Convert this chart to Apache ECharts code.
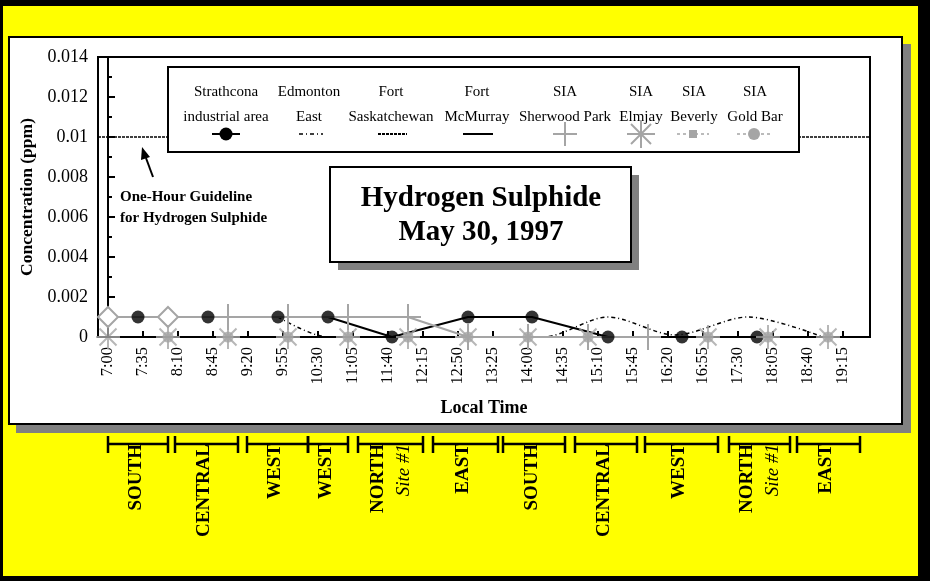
<!DOCTYPE html>
<html>
<head>
<meta charset="utf-8">
<script src="https://cdn.jsdelivr.net/npm/echarts@6/dist/echarts.min.js"></script>
<style>
html, body { margin: 0; padding: 0; background: #000; }
#yellow { position: absolute; left: 3px; top: 6px; width: 915px; height: 570px; background: #ffff00; }
#panel { position: absolute; left: 8px; top: 36px; width: 895px; height: 389px; background: #fff;
  border: 2px solid #000; box-sizing: border-box; box-shadow: 8px 8px 0 #808080; }
#main { position: absolute; left: 0; top: 0; width: 930px; height: 581px; }
</style>
</head>
<body>
<div id="yellow"></div>
<div id="panel"></div>
<div id="main"></div>
<script>
// x axis tick labels (every 35 minutes)
const tickLabels = ['7:00', '7:35', '8:10', '8:45', '9:20', '9:55', '10:30', '11:05', '11:40', '12:15', '12:50',
  '13:25', '14:00', '14:35', '15:10', '15:45', '16:20', '16:55', '17:30', '18:05', '18:40', '19:15']

// Strathcona industrial area (black dots)
const strathconaTimes = ['7:30', '8:40', '9:50', '10:40', '11:44', '13:00', '14:04', '15:20', '16:34', '17:49']
const strathconaValues = [0.001, 0.001, 0.001, 0.001, 0, 0.001, 0.001, 0, 0, 0]

// Edmonton East (dash-dot line)
const edmontonTimes = ['9:50', '10:40', '14:15', '15:20', '16:27', '17:40', '18:55']
const edmontonValues = [0.001, 0, 0, 0.001, 0.0001, 0.001, 0]

// SIA Sherwood Park (grey line, first points drawn as diamonds)
const sherwoodTimes = ['7:00', '8:00', '9:00', '10:00', '11:00', '12:00', '13:00', '14:00', '15:00', '16:00']
const sherwoodValues = [0.001, 0.001, 0.001, 0.001, 0.001, 0.001, 0, 0, 0, 0]
const sherwoodDiamonds = 2

// SIA Elmjay (asterisks)
const elmjayTimes = ['7:00', '8:00', '9:00', '10:00', '11:00', '12:00', '13:00', '14:00', '15:00', '17:00', '18:00', '19:00']
const elmjayValues = [0, 0, 0, 0, 0, 0, 0, 0, 0, 0, 0, 0]

// SIA Gold Bar (grey dots)
const goldBarTimes = ['8:00', '9:00', '10:00', '11:00', '12:00', '13:00', '14:00', '15:00', '17:00', '18:00', '19:00']
const goldBarValues = [0, 0, 0, 0, 0, 0, 0, 0, 0, 0, 0]

// one-hour guideline
const guideline = 0.01

// legend names (two lines each)
const legendNames = [['Strathcona', 'industrial area'], ['Edmonton', 'East'], ['Fort', 'Saskatchewan'], ['Fort', 'McMurray'],
  ['SIA', 'Sherwood Park'], ['SIA', 'Elmjay'], ['SIA', 'Beverly'], ['SIA', 'Gold Bar']]

// monitoring regions under the time axis
const regionNames = ['SOUTH', 'CENTRAL', 'WEST', 'WEST', 'NORTH', 'EAST', 'SOUTH', 'CENTRAL', 'WEST', 'NORTH', 'EAST']
const regionSub = ['', '', '', '', 'Site #1', '', '', '', '', 'Site #1', '']
const regionStarts = ['7:00', '8:07', '9:19', '10:20', '11:10', '12:25', '13:35', '14:47', '15:57', '17:21', '18:29']
const regionEnds = ['8:00', '9:10', '10:20', '11:00', '12:15', '13:30', '14:37', '15:49', '17:10', '18:22', '19:32']

const SERIF = '"Liberation Serif", "Times New Roman", serif'
const GREY = '#a5a5a5'
const PLUS = 'path://M12,0L12,24M0,12L24,12'
const STAR = 'path://M12,0L12,24M0,12L24,12M3.5,3.5L20.5,20.5M20.5,3.5L3.5,20.5'

const toMin = t => {
  const [h, m] = t.split(':').map(Number)
  return (h - 7) * 60 + m
}
const pairs = (times, vals) => times.map((t, i) => [toMin(t), vals[i]])
const tickValues = tickLabels.map(toMin)

const chart = echarts.init(document.getElementById('main'))

const option = {
  animation: false,
  grid: { left: 98, top: 57, right: 60, bottom: 244, show: true, borderColor: '#000', borderWidth: 2 },
  xAxis: {
    type: 'value',
    min: -10,
    max: 762,
    name: 'Local Time',
    nameLocation: 'middle',
    nameGap: 62,
    nameTextStyle: { fontFamily: SERIF, fontWeight: 'bold', fontSize: 18, color: '#000' },
    axisLine: { lineStyle: { color: '#000', width: 2 } },
    axisTick: { inside: true, length: 6, customValues: tickValues, lineStyle: { color: '#000', width: 2 } },
    axisLabel: {
      customValues: tickValues,
      rotate: 90,
      margin: 10,
      fontFamily: SERIF,
      fontSize: 16.5,
      color: '#000',
      formatter: v => tickLabels[tickValues.indexOf(v)] || ''
    },
    splitLine: { show: false }
  },
  yAxis: {
    type: 'value',
    min: 0,
    max: 0.014,
    interval: 0.002,
    name: 'Concentration (ppm)',
    nameLocation: 'middle',
    nameGap: 60,
    nameTextStyle: { fontFamily: SERIF, fontWeight: 'bold', fontSize: 17.5, color: '#000' },
    axisLine: { show: true, lineStyle: { color: '#000', width: 2 } },
    axisTick: { show: true, inside: true, length: 7, lineStyle: { color: '#000', width: 2 } },
    minorTick: { show: true, splitNumber: 2, length: 4, lineStyle: { color: '#000', width: 2 } },
    axisLabel: {
      margin: 10,
      fontFamily: SERIF,
      fontSize: 18,
      color: '#000',
      formatter: v => String(+v.toFixed(3))
    },
    splitLine: { show: false }
  },
  series: [
    {
      name: 'Strathcona industrial area',
      type: 'line',
      z: 2,
      data: pairs(strathconaTimes, strathconaValues),
      showSymbol: false,
      lineStyle: { color: '#000', width: 2 },
      markLine: {
        silent: true,
        symbol: 'none',
        label: { show: false },
        lineStyle: { color: '#000', width: 1.5, type: [3, 1] },
        data: [{ yAxis: guideline }]
      }
    },
    {
      name: 'Edmonton East',
      type: 'line',
      z: 2,
      smooth: 0.3,
      data: pairs(edmontonTimes, edmontonValues),
      showSymbol: false,
      lineStyle: { color: '#000', width: 1.5, type: [4, 3, 1, 3] }
    },
    {
      name: 'SIA Sherwood Park',
      type: 'line',
      z: 3,
      data: pairs(sherwoodTimes, sherwoodValues),
      symbol: (v, p) => (p.dataIndex < sherwoodDiamonds ? 'emptyDiamond' : PLUS),
      symbolSize: (v, p) => (p.dataIndex < sherwoodDiamonds ? 20 : 26),
      showAllSymbol: true,
      lineStyle: { color: GREY, width: 2 },
      itemStyle: { color: GREY, borderColor: GREY, borderWidth: 2 }
    },
    {
      name: 'Strathcona dots',
      type: 'scatter',
      z: 4,
      data: pairs(strathconaTimes, strathconaValues),
      symbol: 'circle',
      symbolSize: 13,
      itemStyle: { color: '#000' }
    },
    {
      name: 'SIA Elmjay',
      type: 'scatter',
      z: 5,
      data: pairs(elmjayTimes, elmjayValues),
      symbol: STAR,
      symbolSize: 24,
      itemStyle: { color: GREY, borderColor: GREY, borderWidth: 2 }
    },
    {
      name: 'SIA Gold Bar',
      type: 'scatter',
      z: 5,
      data: pairs(goldBarTimes, goldBarValues),
      symbol: 'circle',
      symbolSize: 11,
      itemStyle: { color: GREY }
    }
  ]
}

chart.setOption(option)

// ---- decorations: legend box, title box, guideline note, region brackets ----
const els = []
const txt = (text, x, y, font, align, extra) => Object.assign({
  type: 'text', z: 110,
  style: { text, x, y, font, fill: '#000', align: align || 'center', textAlign: align || 'center',
    verticalAlign: 'middle', textVerticalAlign: 'middle' }
}, extra || {})
const seg = (x1, y1, x2, y2, stroke, lineWidth, lineDash) => ({
  type: 'line', z: 110,
  shape: { x1, y1, x2, y2 },
  style: { stroke, lineWidth, lineDash: lineDash || null }
})

// legend
els.push({ type: 'rect', z: 100, shape: { x: 168, y: 67, width: 631, height: 85 },
  style: { fill: '#fff', stroke: '#000', lineWidth: 2 } })
const legendX = [226, 309, 391, 477, 565, 641, 694, 755]
legendNames.forEach((n, i) => {
  els.push(txt(n[0], legendX[i], 92, '15px ' + SERIF))
  els.push(txt(n[1], legendX[i], 117, '15px ' + SERIF))
})
const sy = 134
els.push(seg(212, sy, 240, sy, '#000', 2))
els.push({ type: 'circle', z: 111, shape: { cx: 226, cy: sy, r: 6.5 }, style: { fill: '#000' } })
els.push(seg(299, sy, 323, sy, '#000', 1.5, [4, 3, 1, 3]))
els.push(seg(378, sy, 407, sy, '#000', 2, [3, 1]))
els.push(seg(463, sy, 493, sy, '#000', 2))
els.push(seg(553, sy, 577, sy, GREY, 2))
els.push(seg(565, sy - 12, 565, sy + 12, GREY, 2))
const sc = 641
els.push(seg(sc - 14, sy, sc + 14, sy, GREY, 2))
els.push(seg(sc, sy - 14, sc, sy + 14, GREY, 2))
els.push(seg(sc - 10, sy - 10, sc + 10, sy + 10, GREY, 2))
els.push(seg(sc - 10, sy + 10, sc + 10, sy - 10, GREY, 2))
els.push(seg(677, sy, 709, sy, GREY, 1.5, [3, 3]))
els.push({ type: 'rect', z: 111, shape: { x: 689, y: sy - 4, width: 8, height: 8 }, style: { fill: GREY } })
els.push(seg(737, sy, 771, sy, GREY, 1.5, [3, 3]))
els.push({ type: 'circle', z: 111, shape: { cx: 754, cy: sy, r: 6 }, style: { fill: GREY } })

// title box
els.push({ type: 'rect', z: 100, shape: { x: 338, y: 175, width: 301, height: 95 }, style: { fill: '#808080' } })
els.push({ type: 'rect', z: 101, shape: { x: 330, y: 167, width: 301, height: 95 },
  style: { fill: '#fff', stroke: '#000', lineWidth: 2 } })
els.push(txt('Hydrogen Sulphide', 481, 199, 'bold 29px ' + SERIF))
els.push(txt('May 30, 1997', 481, 233, 'bold 29px ' + SERIF))

// guideline note and arrow
els.push(txt('One-Hour Guideline', 120, 197, 'bold 15px ' + SERIF, 'left'))
els.push(txt('for Hydrogen Sulphide', 120, 218, 'bold 15px ' + SERIF, 'left'))
els.push(seg(153, 177, 146, 158, '#000', 2))
els.push({ type: 'polygon', z: 110, shape: { points: [[142, 147], [141, 160], [150, 157]] }, style: { fill: '#000' } })

// region brackets
const by = 444
regionNames.forEach((name, i) => {
  const x1 = chart.convertToPixel({ xAxisIndex: 0 }, toMin(regionStarts[i]))
  const x2 = chart.convertToPixel({ xAxisIndex: 0 }, toMin(regionEnds[i]))
  els.push(seg(x1, by, x2, by, '#000', 2.5))
  els.push(seg(x1, by - 8, x1, by + 9, '#000', 2.5))
  els.push(seg(x2, by - 8, x2, by + 9, '#000', 2.5))
  const cx = (x1 + x2) / 2
  const rot = { rotation: Math.PI / 2 }
  if (regionSub[i]) {
    els.push(Object.assign(txt(name, 0, 0, 'bold 19px ' + SERIF, 'right'), { x: cx - 12, y: 444 }, rot))
    els.push(Object.assign(txt(regionSub[i], 0, 0, 'italic 19px ' + SERIF, 'right'), { x: cx + 13, y: 444 }, rot))
  } else {
    els.push(Object.assign(txt(name, 0, 0, 'bold 19px ' + SERIF, 'right'), { x: cx - 2, y: 444 }, rot))
  }
})

chart.setOption({ graphic: { elements: els } })
</script>
</body>
</html>
